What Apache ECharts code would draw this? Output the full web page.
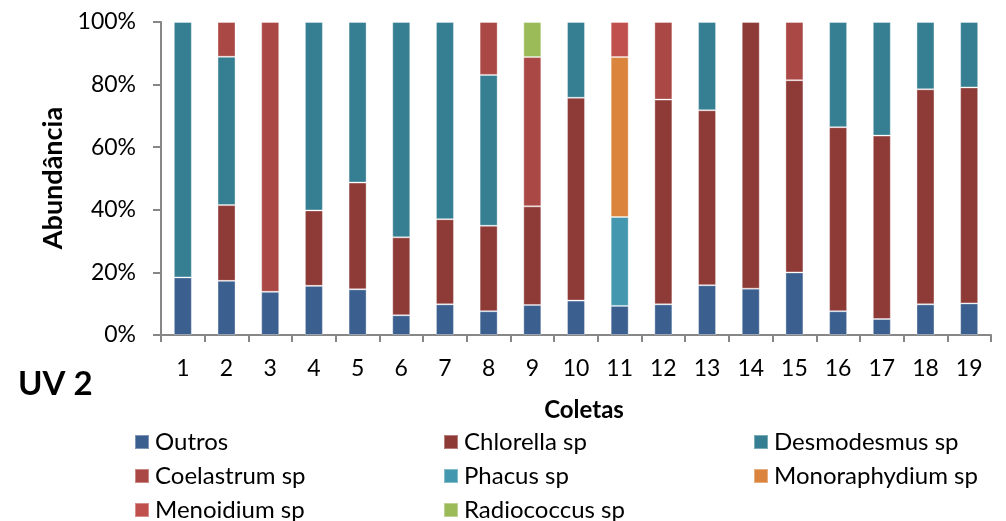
<!DOCTYPE html>
<html>
<head>
<meta charset="utf-8">
<script src="https://cdn.jsdelivr.net/npm/echarts@6/dist/echarts.min.js"></script>
<style>
  html, body { margin: 0; padding: 0; background: #ffffff; }
  #chart { width: 1006px; height: 521px; }
</style>
</head>
<body>
<div id="chart"></div>
<script>
// Coletas (sampling events) on the x axis
const coletas = ['1','2','3','4','5','6','7','8','9','10','11','12','13','14','15','16','17','18','19'];

// Relative abundance (%) of each taxon per coleta
const outros        = [18.4, 17.3, 13.8, 15.7, 14.6, 6.3, 9.8, 7.6, 9.6, 11.0, 9.3, 9.8, 15.9, 14.8, 20.0, 7.6, 5.1, 9.8, 10.1];
const chlorella     = [0, 24.2, 0, 24.1, 34.1, 24.9, 27.2, 27.3, 31.5, 64.8, 0, 65.4, 55.9, 85.2, 61.4, 58.8, 58.6, 68.7, 69.0];
const desmodesmus   = [81.6, 47.4, 0, 60.2, 51.3, 68.8, 63.0, 48.2, 0, 24.2, 0, 0, 28.2, 0, 0, 33.6, 36.3, 21.5, 20.9];
const coelastrum    = [0, 11.1, 86.2, 0, 0, 0, 0, 16.9, 47.7, 0, 0, 24.8, 0, 0, 18.6, 0, 0, 0, 0];
const phacus        = [0, 0, 0, 0, 0, 0, 0, 0, 0, 0, 28.4, 0, 0, 0, 0, 0, 0, 0, 0];
const monoraphydium = [0, 0, 0, 0, 0, 0, 0, 0, 0, 0, 51.1, 0, 0, 0, 0, 0, 0, 0, 0];
const menoidium     = [0, 0, 0, 0, 0, 0, 0, 0, 0, 0, 11.2, 0, 0, 0, 0, 0, 0, 0, 0];
const radiococcus   = [0, 0, 0, 0, 0, 0, 0, 0, 11.2, 0, 0, 0, 0, 0, 0, 0, 0, 0, 0];

// Y axis ticks
const yTicks = [0, 20, 40, 60, 80, 100];

const taxa = [
  { name: 'Outros',           data: outros,        color: '#3B5F8E' },
  { name: 'Chlorella sp',     data: chlorella,     color: '#8E3A37' },
  { name: 'Desmodesmus sp',   data: desmodesmus,   color: '#367F93' },
  { name: 'Coelastrum sp',    data: coelastrum,    color: '#AA4845' },
  { name: 'Phacus sp',        data: phacus,        color: '#4398AF' },
  { name: 'Monoraphydium sp', data: monoraphydium, color: '#DB843D' },
  { name: 'Menoidium sp',     data: menoidium,     color: '#C0504D' },
  { name: 'Radiococcus sp',   data: radiococcus,   color: '#9BBB59' }
];

const FONT = 'Lato, "Open Sans", sans-serif';
const axisGray = '#878787';

const chart = echarts.init(document.getElementById('chart'), null, { renderer: 'canvas' });

// One vertical legend per column, three rows each
function legendColumn(names, left) {
  return {
    data: names,
    orient: 'vertical',
    left: left,
    top: 430,
    height: 120,
    itemWidth: 14,
    itemHeight: 14,
    itemGap: 10,
    icon: 'rect',
    selectedMode: false,
    padding: 0,
    textStyle: { fontFamily: FONT, fontSize: 24, color: '#000', padding: [0, 0, 0, 1] }
  };
}

chart.setOption({
  animation: false,
  backgroundColor: '#ffffff',
  color: taxa.map(t => t.color),
  grid: { left: 161, right: 15, top: 22, bottom: 186, containLabel: false },
  legend: [
    legendColumn(['Outros', 'Coelastrum sp', 'Menoidium sp'], 134),
    legendColumn(['Chlorella sp', 'Phacus sp', 'Radiococcus sp'], 443),
    legendColumn(['Desmodesmus sp', 'Monoraphydium sp'], 753)
  ],
  xAxis: {
    type: 'category',
    data: coletas,
    boundaryGap: true,
    axisLine: { lineStyle: { color: axisGray, width: 2 } },
    axisTick: { show: true, length: 7, lineStyle: { color: axisGray, width: 2 } },
    axisLabel: { fontFamily: FONT, fontSize: 23, color: '#000', margin: 22, interval: 0 },
    splitLine: { show: false }
  },
  yAxis: {
    type: 'value',
    min: yTicks[0],
    max: yTicks[yTicks.length - 1],
    interval: yTicks[1] - yTicks[0],
    axisLine: { show: true, lineStyle: { color: axisGray, width: 2 } },
    axisTick: { show: true, length: 8, lineStyle: { color: axisGray, width: 2 } },
    axisLabel: { fontFamily: FONT, fontSize: 23, color: '#000', margin: 25, formatter: '{value}%' },
    splitLine: { show: false }
  },
  graphic: [
    {
      type: 'text', x: 53, y: 178, rotation: Math.PI / 2,
      style: { text: 'Abundância', font: 'bold 27px ' + FONT, fill: '#000', textAlign: 'center', textVerticalAlign: 'middle' }
    },
    {
      type: 'text', x: 584, y: 410,
      style: { text: 'Coletas', font: 'bold 24px ' + FONT, fill: '#000', textAlign: 'center', textVerticalAlign: 'middle' }
    },
    {
      type: 'text', x: 18, y: 384,
      style: { text: 'UV 2', font: 'bold 33px ' + FONT, fill: '#000', textAlign: 'left', textVerticalAlign: 'middle' }
    }
  ],
  series: taxa.map(t => ({
    name: t.name,
    type: 'bar',
    stack: 'total',
    barWidth: 18,
    data: t.data.map(v => (v === 0 ? '-' : v)),
    itemStyle: { color: t.color, borderColor: 'rgba(255,255,255,0.35)', borderWidth: 1 }
  }))
});
</script>
</body>
</html>
